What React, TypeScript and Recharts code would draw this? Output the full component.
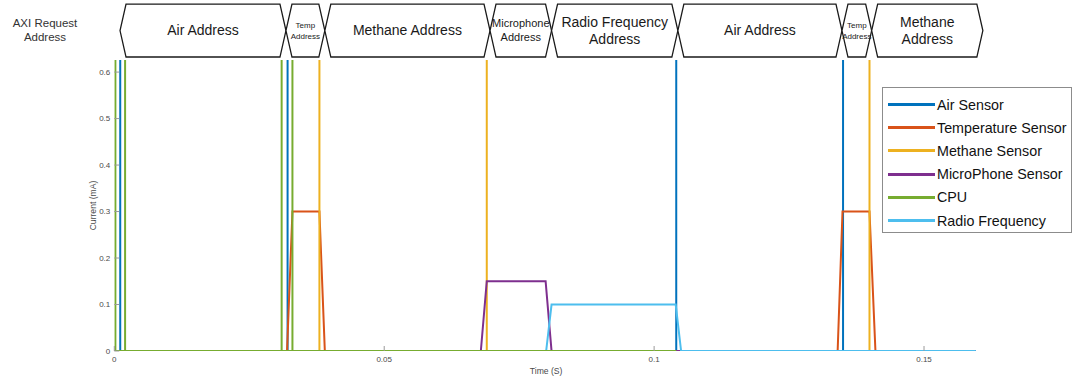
import React from 'react';
import { LineChart, Line, XAxis, YAxis, ReferenceArea, Legend, Label } from 'recharts';

// ---------- data ----------
const seriesNames = ['Air Sensor', 'Temperature Sensor', 'Methane Sensor', 'MicroPhone Sensor', 'CPU', 'Radio Frequency'];

const airSensor = [
  { t: 0, v: 0 }, { t: 0.0011, v: 0 }, { t: 0.0011, v: 1 }, { t: 0.0011, v: 0 },
  { t: 0.0321, v: 0 }, { t: 0.0321, v: 1 }, { t: 0.0321, v: 0 },
  { t: 0.1041, v: 0 }, { t: 0.1041, v: 1 }, { t: 0.1041, v: 0 },
  { t: 0.135, v: 0 }, { t: 0.135, v: 1 }, { t: 0.135, v: 0 },
  { t: 0.1596, v: 0 },
];

const temperatureSensor = [
  { t: 0, v: 0 }, { t: 0.032, v: 0 }, { t: 0.033, v: 0.3 }, { t: 0.038, v: 0.3 }, { t: 0.039, v: 0 },
  { t: 0.134, v: 0 }, { t: 0.1349, v: 0.3 }, { t: 0.1399, v: 0.3 }, { t: 0.141, v: 0 },
  { t: 0.1596, v: 0 },
];

const methaneSensor = [
  { t: 0, v: 0 }, { t: 0.038, v: 0 }, { t: 0.038, v: 1 }, { t: 0.038, v: 0 },
  { t: 0.069, v: 0 }, { t: 0.069, v: 1 }, { t: 0.069, v: 0 },
  { t: 0.1399, v: 0 }, { t: 0.1399, v: 1 }, { t: 0.1399, v: 0 },
  { t: 0.1596, v: 0 },
];

const microphoneSensor = [
  { t: 0, v: 0 }, { t: 0.0679, v: 0 }, { t: 0.069, v: 0.15 }, { t: 0.0799, v: 0.15 }, { t: 0.081, v: 0 },
  { t: 0.1596, v: 0 },
];

const cpu = [
  { t: 0.0002, v: 1 }, { t: 0.0002, v: 0 }, { t: 0.002, v: 0 }, { t: 0.002, v: 1 }, { t: 0.002, v: 0 },
  { t: 0.031, v: 0 }, { t: 0.031, v: 1 }, { t: 0.031, v: 0 },
  { t: 0.033, v: 0 }, { t: 0.033, v: 1 }, { t: 0.033, v: 0 },
  { t: 0.1041, v: 0 },
];

const radioFrequency = [
  { t: 0, v: 0 }, { t: 0.08, v: 0 }, { t: 0.081, v: 0.1 }, { t: 0.104, v: 0.1 }, { t: 0.105, v: 0 },
  { t: 0.1596, v: 0 },
];

const xTicks = [0, 0.05, 0.1, 0.15];
const xTickLabels = ['0', '0.05', '0.1', '0.15'];
const yTicks = [0, 0.1, 0.2, 0.3, 0.4, 0.5, 0.6];
const yTickLabels = ['0', '0.1', '0.2', '0.3', '0.4', '0.5', '0.6'];

// AXI bus phases (boundaries in seconds)
const busBoundaries = [0.00106, 0.0318, 0.039, 0.0696, 0.081, 0.1044, 0.1348, 0.1403, 0.1609];
const busLabels = [
  ['Air Address'],
  ['Temp', 'Address'],
  ['Methane Address'],
  ['Microphone', 'Address'],
  ['Radio Frequency', 'Address'],
  ['Air Address'],
  ['Temp', 'Address'],
  ['Methane', 'Address'],
];
const busBand = [0.6324, 0.7464];

// ---------- styles ----------
const seriesColors = ['#0072BD', '#D95319', '#EDB120', '#7E2F8E', '#77AC30', '#4DBEEE'];
const busFontSizes = [14, 8, 14, 11, 14, 14, 8, 14];
const FONT = "'Liberation Sans', Arial, Helvetica, sans-serif";
const AXIS_TEXT = '#4a4a4a';
const TICK_LINE = '#9a9a9a';

const seriesData = [airSensor, temperatureSensor, methaneSensor, microphoneSensor, cpu, radioFrequency];
// drawing order: RF under CPU so CPU baseline shows on top
const drawOrder = [0, 1, 2, 3, 5, 4];

const makeBusShape = (lines: string[], fontSize: number) => (props: any) => {
  const { x, y, width, height } = props;
  const d = 6;
  const my = y + height / 2;
  const pts = [
    [x, my], [x + d, y], [x + width - d, y], [x + width, my], [x + width - d, y + height], [x + d, y + height],
  ].map((p) => p.join(',')).join(' ');
  const lh = fontSize * 1.2 + 1;
  const cx = x + width / 2;
  return (
    <g>
      <polygon points={pts} fill="#fff" stroke="#1a1a1a" strokeWidth={1.3} />
      <text textAnchor="middle" fontSize={fontSize} fill="#1a1a1a" fontFamily={FONT}>
        {lines.map((l, i) => (
          <tspan key={i} x={cx} y={my + (i - (lines.length - 1) / 2) * lh} dy="0.35em">{l}</tspan>
        ))}
      </text>
    </g>
  );
};

const YTick = (props: any) => {
  const { x, y, payload, index } = props;
  const i = yTicks.indexOf(payload.value);
  const label = yTickLabels[i >= 0 ? i : index];
  return (
    <g>
      <line x1={x + 4} x2={x + 9} y1={y} y2={y} stroke={TICK_LINE} strokeWidth={1} />
      <text x={x} y={y} dy="0.33em" textAnchor="end" fontSize={8} fill={AXIS_TEXT} fontFamily={FONT}>{label}</text>
    </g>
  );
};

const XTick = (props: any) => {
  const { x, y, payload, index } = props;
  const i = xTicks.indexOf(payload.value);
  const label = xTickLabels[i >= 0 ? i : index];
  return (
    <g>
      <line x1={x} x2={x} y1={y - 4} y2={y - 9} stroke={TICK_LINE} strokeWidth={1} />
      <text x={x} y={y + 7} textAnchor="middle" fontSize={8} fill={AXIS_TEXT} fontFamily={FONT}>{label}</text>
    </g>
  );
};

const renderLegend = () => (
  <div
    style={{
      border: '1px solid #8c8c8c', background: '#fff', boxSizing: 'border-box',
      width: 190, height: 146, paddingTop: 5, fontFamily: FONT,
    }}
  >
    {seriesNames.map((n, i) => (
      <div key={n} style={{ display: 'flex', alignItems: 'center', height: 23.2 }}>
        <span style={{ display: 'inline-block', width: 47, height: 3, background: seriesColors[i], marginLeft: 5 }} />
        <span style={{ marginLeft: 2, fontSize: 14.3, color: '#111', whiteSpace: 'nowrap', lineHeight: '16px' }}>{n}</span>
      </div>
    ))}
  </div>
);

export default function App() {
  return (
    <div style={{ position: 'absolute', left: 0, top: 0, width: 1073, height: 378, background: '#fff' }}>
      <div
        style={{
          position: 'absolute', left: 0, top: 17, width: 90, textAlign: 'center',
          fontFamily: FONT, fontSize: 11.5, lineHeight: '13.7px', color: '#333',
        }}
      >
        AXI Request<br />Address
      </div>
      <LineChart width={1073} height={378} margin={{ top: 60, right: 95, bottom: 0, left: 64 }}>
        <XAxis
          type="number"
          dataKey="t"
          domain={[0, 0.16]}
          allowDataOverflow
          ticks={xTicks}
          tick={<XTick />}
          tickSize={0}
          tickMargin={4}
          axisLine={false}
          tickLine={false}
          height={27}
        >
          <Label
            content={(p: any) => {
              const vb = p.viewBox || {};
              return (
                <text x={vb.x + vb.width / 2} y={vb.y + 23} textAnchor="middle" fontSize={8.6} fill={AXIS_TEXT} fontFamily={FONT}>
                  Time (S)
                </text>
              );
            }}
          />
        </XAxis>
        <YAxis
          type="number"
          dataKey="v"
          domain={[0, 0.626]}
          allowDataOverflow
          ticks={yTicks}
          tick={<YTick />}
          tickSize={0}
          tickMargin={4}
          axisLine={false}
          tickLine={false}
          width={50.3}
        >
          <Label
            content={(p: any) => {
              const vb = p.viewBox || {};
              const cx = vb.x + vb.width - 21;
              const cy = vb.y + vb.height / 2;
              return (
                <text x={cx} y={cy} transform={`rotate(-90 ${cx} ${cy})`} textAnchor="middle" dy="0.35em" fontSize={8.6} fill={AXIS_TEXT} fontFamily={FONT}>
                  Current (mA)
                </text>
              );
            }}
          />
        </YAxis>
        {busLabels.map((lines, i) => (
          <ReferenceArea
            key={`bus-${i}`}
            x1={busBoundaries[i]}
            x2={busBoundaries[i + 1]}
            y1={busBand[0]}
            y2={busBand[1]}
            ifOverflow="visible"
            shape={makeBusShape(lines, busFontSizes[i])}
          />
        ))}
        {drawOrder.map((si) => (
          <Line
            key={seriesNames[si]}
            data={seriesData[si]}
            dataKey="v"
            name={seriesNames[si]}
            type="linear"
            stroke={seriesColors[si]}
            strokeWidth={2}
            dot={false}
            activeDot={false}
            isAnimationActive={false}
          />
        ))}
        <Legend
          layout="vertical"
          align="center"
          verticalAlign="middle"
          content={renderLegend}
          wrapperStyle={{ left: 882, top: 87, width: 190, height: 146 }}
        />
      </LineChart>
    </div>
  );
}
